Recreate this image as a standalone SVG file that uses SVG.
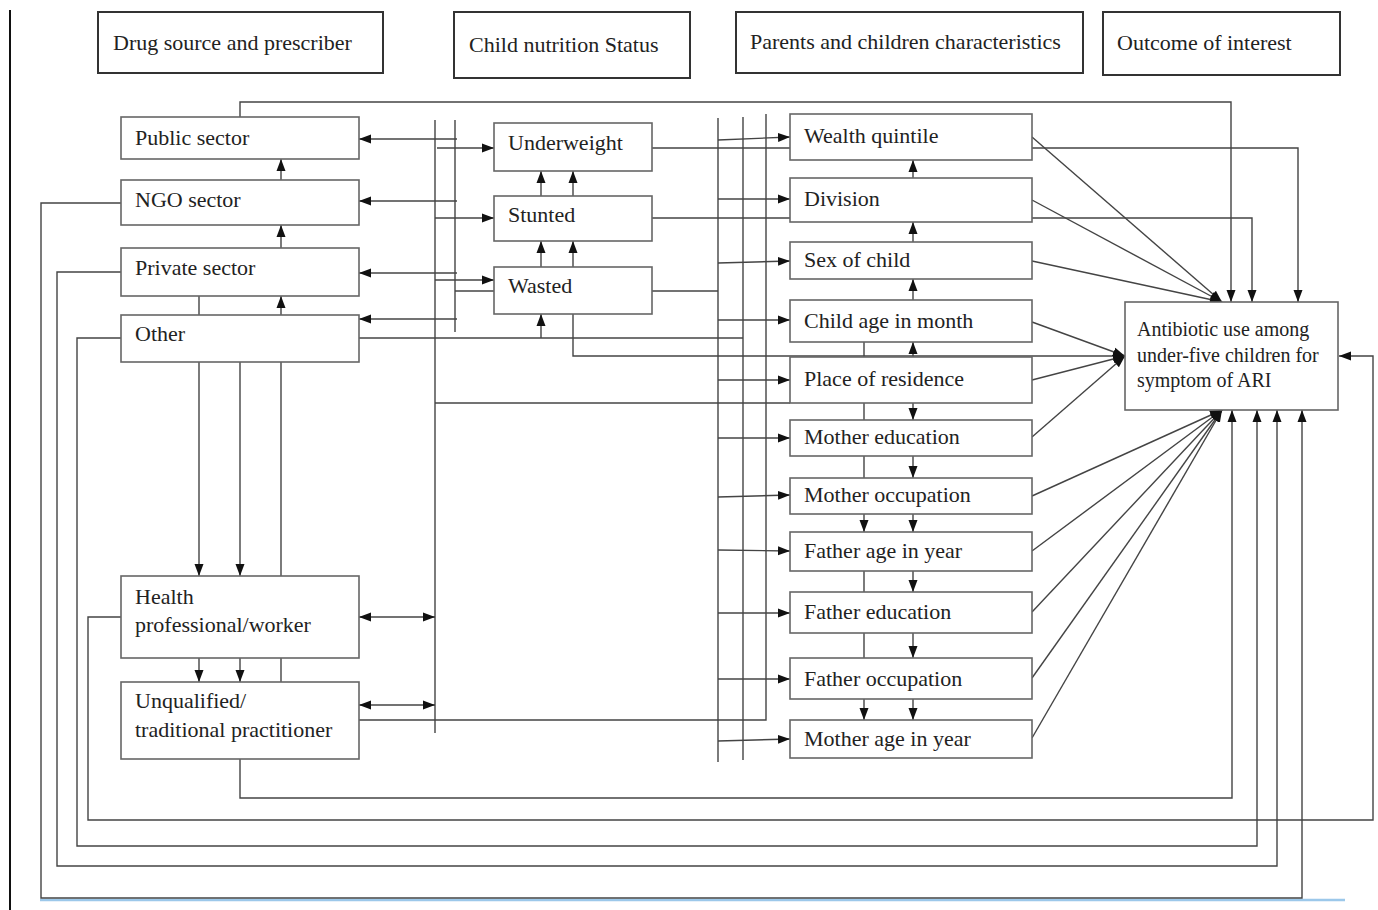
<svg xmlns="http://www.w3.org/2000/svg" width="1378" height="910" viewBox="0 0 1378 910">
<style>
.hdr{fill:#fff;stroke:#333;stroke-width:2}
.box{fill:#fff;stroke:#666;stroke-width:1.6}
text{font-family:"Liberation Serif","Times New Roman",serif;font-size:22px;fill:#222}
.small{font-size:20px}
.c{fill:none;stroke:#444;stroke-width:1.4}
.a{marker-end:url(#ah)}
.b{marker-end:url(#ah);marker-start:url(#ah)}
</style>
<defs>
<marker id="ah" markerUnits="userSpaceOnUse" markerWidth="12" markerHeight="10" refX="12" refY="5" orient="auto-start-reverse" viewBox="0 0 12 10">
<path d="M0,0.5 L12,5 L0,9.5 z" fill="#111"/>
</marker>
</defs>
<rect width="1378" height="910" fill="#fff"/>
<line x1="10" y1="10" x2="10" y2="910" stroke="#111" stroke-width="2"/>
<line x1="40" y1="900" x2="1345" y2="900" stroke="#9cc8ea" stroke-width="2.5"/>

<g id="connectors">
<path class="c a" d="M281,180 V159"/>
<path class="c a" d="M281,248 V225"/>
<path class="c a" d="M281,315 V296"/>
<path class="c" d="M199,296 V315"/>
<path class="c a" d="M199,362 V576"/>
<path class="c a" d="M240,362 V576"/>
<path class="c" d="M281,362 V576"/>
<path class="c a" d="M199,658 V682"/>
<path class="c a" d="M240,658 V682"/>
<path class="c" d="M281,658 V682"/>
<path class="c" d="M435,120 V733"/>
<path class="c" d="M455,120 V332"/>
<path class="c a" d="M457,139 H359"/>
<path class="c a" d="M437,148 H494"/>
<path class="c a" d="M457,201 H359"/>
<path class="c a" d="M435,218 H494"/>
<path class="c a" d="M457,273 H359"/>
<path class="c a" d="M435,280 H494"/>
<path class="c" d="M455,291 H494"/>
<path class="c a" d="M457,319 H359"/>
<path class="c" d="M359,338 H743"/>
<path class="c a" d="M541,338 V314"/>
<path class="c a" d="M573,314 V356 H1125"/>
<path class="c" d="M435,403 H790"/>
<path class="c b" d="M359,617 H435"/>
<path class="c b" d="M359,705 H435"/>
<path class="c" d="M359,720 H766 V114"/>
<path class="c a" d="M541,196 V171"/>
<path class="c a" d="M573,196 V171"/>
<path class="c a" d="M541,267 V241"/>
<path class="c a" d="M573,267 V241"/>
<path class="c a" d="M652,148 H1298 V302"/>
<path class="c a" d="M652,218 H1252 V302"/>
<path class="c" d="M652,291 H718"/>
<path class="c" d="M718,118 V762"/>
<path class="c" d="M743,117 V760"/>
<path class="c a" d="M718,140 L790,137"/>
<path class="c a" d="M718,199 H790"/>
<path class="c a" d="M718,263 L790,261"/>
<path class="c a" d="M718,320 H790"/>
<path class="c a" d="M718,380 H790"/>
<path class="c a" d="M718,438 H790"/>
<path class="c a" d="M718,497 L790,495"/>
<path class="c a" d="M718,550 L790,551"/>
<path class="c a" d="M718,613 H790"/>
<path class="c a" d="M718,679 H790"/>
<path class="c a" d="M718,741 L790,739"/>
<path class="c a" d="M913,178 V160"/>
<path class="c a" d="M913,242 V222"/>
<path class="c a" d="M913,300 V279"/>
<path class="c a" d="M913,357 V342"/>
<path class="c" d="M864,342 V357"/>
<path class="c a" d="M913,403 V420"/>
<path class="c" d="M864,403 V420"/>
<path class="c a" d="M913,456 V478"/>
<path class="c" d="M864,456 V478"/>
<path class="c a" d="M864,514 V532"/>
<path class="c a" d="M913,514 V532"/>
<path class="c a" d="M913,571 V592"/>
<path class="c" d="M864,571 V592"/>
<path class="c a" d="M913,633 V658"/>
<path class="c" d="M864,633 V658"/>
<path class="c a" d="M864,699 V720"/>
<path class="c a" d="M913,699 V720"/>
<path class="c a" d="M240,117 V102 H1231 V302"/>
<path class="c a" d="M1032,137 L1222,302"/>
<path class="c a" d="M1032,200 L1222,302"/>
<path class="c a" d="M1032,261 L1222,302"/>
<path class="c a" d="M1032,322 L1125,356"/>
<path class="c a" d="M1032,380 L1125,356"/>
<path class="c a" d="M1032,437 L1125,356"/>
<path class="c a" d="M1032,496 L1222,410"/>
<path class="c a" d="M1032,551 L1222,410"/>
<path class="c a" d="M1032,612 L1222,410"/>
<path class="c a" d="M1032,678 L1222,410"/>
<path class="c a" d="M1032,738 L1222,410"/>
<path class="c a" d="M240,759 V798 H1232 V410"/>
<path class="c a" d="M121,617 H88 V820 H1373 V356 H1339"/>
<path class="c a" d="M121,338 H77 V846 H1257 V410"/>
<path class="c a" d="M121,272 H57 V866 H1277 V410"/>
<path class="c a" d="M121,203 H41 V898 H1302 V410"/>
</g>

<g id="h-drug"><rect class="hdr" x="98" y="12" width="285" height="61"/><text x="113" y="50">Drug source and prescriber</text></g>
<g id="h-nutrition"><rect class="hdr" x="454" y="12" width="236" height="66"/><text x="469" y="52">Child nutrition Status</text></g>
<g id="h-parents"><rect class="hdr" x="736" y="12" width="347" height="61"/><text x="750" y="49">Parents and children characteristics</text></g>
<g id="h-outcome"><rect class="hdr" x="1103" y="12" width="237" height="63"/><text x="1117" y="50">Outcome of interest</text></g>

<g id="public"><rect class="box" x="121" y="117" width="238" height="42"/><text x="135" y="145">Public sector</text></g>
<g id="ngo"><rect class="box" x="121" y="180" width="238" height="45"/><text x="135" y="207">NGO sector</text></g>
<g id="private"><rect class="box" x="121" y="248" width="238" height="48"/><text x="135" y="275">Private sector</text></g>
<g id="other"><rect class="box" x="121" y="315" width="238" height="47"/><text x="135" y="341">Other</text></g>
<g id="health"><rect class="box" x="121" y="576" width="238" height="82"/><text x="135" y="604">Health</text><text x="135" y="632">professional/worker</text></g>
<g id="unqualified"><rect class="box" x="121" y="682" width="238" height="77"/><text x="135" y="708">Unqualified/</text><text x="135" y="737">traditional practitioner</text></g>

<g id="underweight"><rect class="box" x="494" y="123" width="158" height="48"/><text x="508" y="150">Underweight</text></g>
<g id="stunted"><rect class="box" x="494" y="196" width="158" height="45"/><text x="508" y="222">Stunted</text></g>
<g id="wasted"><rect class="box" x="494" y="267" width="158" height="47"/><text x="508" y="293">Wasted</text></g>

<g id="wealth"><rect class="box" x="790" y="114" width="242" height="46"/><text x="804" y="143">Wealth quintile</text></g>
<g id="division"><rect class="box" x="790" y="178" width="242" height="44"/><text x="804" y="206">Division</text></g>
<g id="sex"><rect class="box" x="790" y="242" width="242" height="37"/><text x="804" y="267">Sex of child</text></g>
<g id="childage"><rect class="box" x="790" y="300" width="242" height="42"/><text x="804" y="328">Child age in month</text></g>
<g id="residence"><rect class="box" x="790" y="357" width="242" height="46"/><text x="804" y="386">Place of residence</text></g>
<g id="mothered"><rect class="box" x="790" y="420" width="242" height="36"/><text x="804" y="444">Mother education</text></g>
<g id="motherocc"><rect class="box" x="790" y="478" width="242" height="36"/><text x="804" y="502">Mother occupation</text></g>
<g id="fatherage"><rect class="box" x="790" y="532" width="242" height="39"/><text x="804" y="558">Father age in year</text></g>
<g id="fathered"><rect class="box" x="790" y="592" width="242" height="41"/><text x="804" y="619">Father education</text></g>
<g id="fatherocc"><rect class="box" x="790" y="658" width="242" height="41"/><text x="804" y="686">Father occupation</text></g>
<g id="motherage"><rect class="box" x="790" y="720" width="242" height="38"/><text x="804" y="746">Mother age in year</text></g>

<g id="outcome"><rect class="box" x="1125" y="302" width="213" height="108"/><text class="small" x="1137" y="336">Antibiotic use among</text><text class="small" x="1137" y="362">under-five children for</text><text class="small" x="1137" y="387">symptom of ARI</text></g>
</svg>
